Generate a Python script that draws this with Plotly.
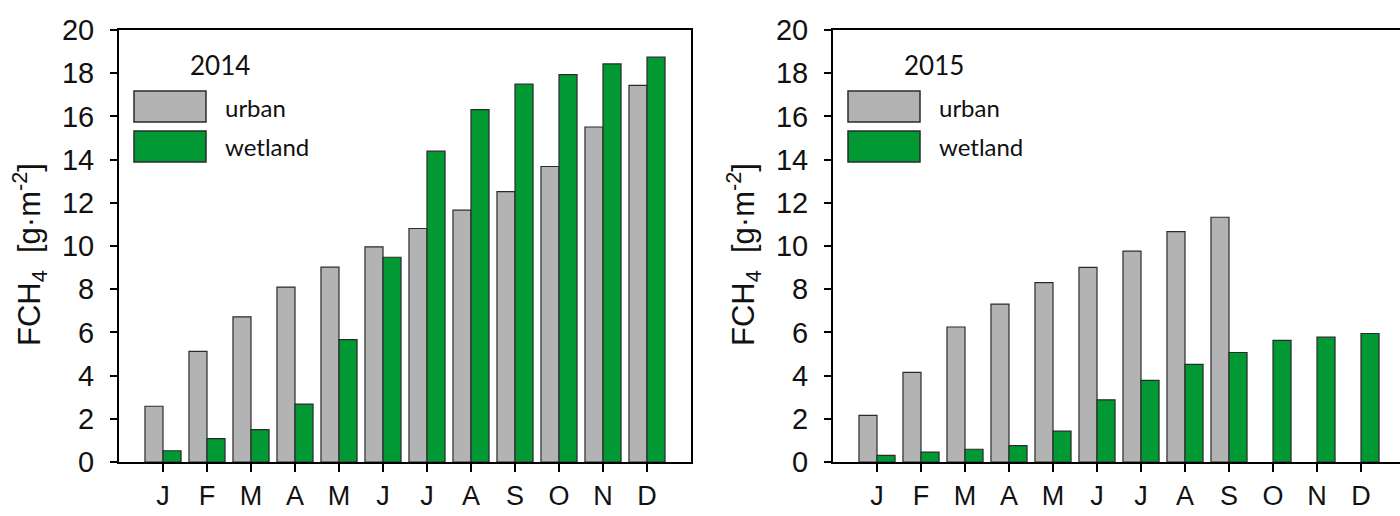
import plotly.graph_objects as go

# Monthly cumulative methane flux, FCH4 [g m-2]
months = ["J", "F", "M", "A", "M", "J", "J", "A", "S", "O", "N", "D"]
urban_2014 = [2.58, 5.12, 6.72, 8.10, 9.02, 9.96, 10.81, 11.66, 12.52, 13.68, 15.51, 17.44]
wetland_2014 = [0.52, 1.08, 1.50, 2.68, 5.67, 9.48, 14.39, 16.31, 17.49, 17.93, 18.43, 18.74]
urban_2015 = [2.16, 4.15, 6.25, 7.31, 8.30, 9.01, 9.76, 10.67, 11.33, None, None, None]
wetland_2015 = [0.31, 0.46, 0.59, 0.76, 1.43, 2.88, 3.78, 4.52, 5.07, 5.63, 5.78, 5.95]
years = ["2014", "2015"]
series_names = ["urban", "wetland"]

W, H = 1400, 516
GRAY = "#b3b3b3"
GREEN = "#009933"
EDGE = "#2b2b2b"
AXIS_FONT = "Liberation Sans, Arial, sans-serif"
LEG_FONT = "Lato, Open Sans, sans-serif"

xpos = list(range(len(months)))

# panel geometry in pixels
TOP, BOTTOM = 30, 462
L1, R1 = 119, 691          # 2014 panel, full box
L2 = 833                   # 2015 panel, runs off the right edge
UNIT = (R1 - L1) / 13.0    # pixels per month slot


def px(x):
    return x / W


def py(y):
    return 1 - y / H


fig = go.Figure()

panels = [
    ("x", "y", urban_2014, wetland_2014),
    ("x2", "y2", urban_2015, wetland_2015),
]
for xa, ya, urb, wet in panels:
    for name, vals, col in [("urban", urb, GRAY), ("wetland", wet, GREEN)]:
        fig.add_trace(go.Bar(
            x=xpos, y=vals, name=name, xaxis=xa, yaxis=ya,
            marker=dict(color=col, line=dict(color=EDGE, width=1.2)),
            showlegend=False,
        ))

axis_common = dict(
    showgrid=False, zeroline=False, showline=True, linecolor="black",
    linewidth=2, ticks="outside", tickcolor="black", tickwidth=2,
    automargin=False,
)

x_common = dict(tickvals=xpos, ticktext=months, mirror=True, ticklen=8,
                ticklabelstandoff=1,
                tickfont=dict(family=AXIS_FONT, size=27, color="#111"),
                **axis_common)
y_common = dict(domain=[py(BOTTOM), py(TOP)], range=[0, 20], dtick=2,
                ticklen=7, ticklabelstandoff=10,
                tickfont=dict(family=AXIS_FONT, size=29, color="#111"),
                **axis_common)

x2_max = -1 + (W - L2) / UNIT

fig.update_layout(
    width=W, height=H,
    margin=dict(l=0, r=0, t=0, b=0, autoexpand=False),
    paper_bgcolor="white", plot_bgcolor="white",
    barmode="group", bargap=0.18, bargroupgap=0,
    xaxis=dict(domain=[px(L1), px(R1)], range=[-1, 12], anchor="y", **x_common),
    yaxis=dict(anchor="x", mirror=True, **y_common),
    xaxis2=dict(domain=[px(L2), 1.0], range=[-1, x2_max], anchor="y2", **x_common),
    yaxis2=dict(anchor="x2", mirror=False, **y_common),
)

ytitle = "FCH<sub>4</sub>  [g·m<sup>-2</sup>]"
for left in (L1, L2):
    fig.add_annotation(
        x=px(left - 90), y=py(255), xref="paper", yref="paper", text=ytitle,
        textangle=-90, showarrow=False, xanchor="center", yanchor="middle",
        font=dict(family=AXIS_FONT, size=31, color="#111"),
    )

# in-panel legends: year heading, swatches and labels
for year, left in zip(years, (L1, L2)):
    fig.add_annotation(
        x=px(left + 101), y=py(65), xref="paper", yref="paper", text=year,
        showarrow=False, xanchor="center", yanchor="middle",
        font=dict(family=LEG_FONT, size=26, color="#111"),
    )
    for (y0, y1, yc), name, col in zip([(91, 122, 107), (131, 162, 146)],
                                       series_names, [GRAY, GREEN]):
        fig.add_shape(
            type="rect", xref="paper", yref="paper",
            x0=px(left + 15), x1=px(left + 87), y0=py(y1), y1=py(y0),
            fillcolor=col, line=dict(color=EDGE, width=1.5),
        )
        fig.add_annotation(
            x=px(left + 104), y=py(yc), xref="paper", yref="paper", text=name,
            showarrow=False, xanchor="left", yanchor="middle",
            font=dict(family=LEG_FONT, size=24, color="#111"),
        )

fig.write_html("out.html")
